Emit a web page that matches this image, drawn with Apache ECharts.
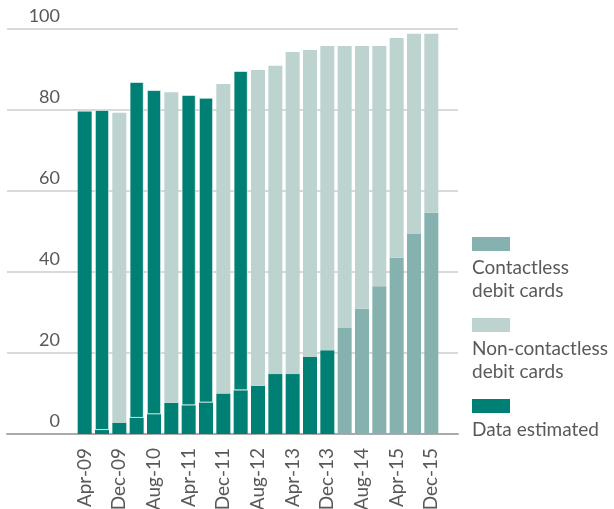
<!DOCTYPE html>
<html><head><meta charset="utf-8">
<script src="https://cdn.jsdelivr.net/npm/echarts@6/dist/echarts.min.js"></script>
<style>html,body{margin:0;padding:0;background:#fff}#c{width:614px;height:509px}</style>
</head><body><div id="c"></div>
<script>
const categories = ['Apr-09','Aug-09','Dec-09','Apr-10','Aug-10','Dec-10','Apr-11','Aug-11','Dec-11','Apr-12','Aug-12','Dec-12','Apr-13','Aug-13','Dec-13','Apr-14','Aug-14','Dec-14','Apr-15','Aug-15','Dec-15'];
const contactless = [0, 1.0, 2.8, 4.0, 4.9, 7.7, 7.1, 7.8, 10.0, 10.8, 11.9, 14.8, 14.8, 19.0, 20.7, 26.2, 30.9, 36.5, 43.5, 49.4, 54.6];
const nonContactless = [79.6, 79.0, 76.5, 82.9, 80.0, 76.7, 76.6, 75.2, 76.4, 78.8, 78.0, 76.1, 79.5, 75.8, 75.1, 69.6, 64.9, 59.3, 54.3, 49.4, 44.2];
const contactlessEstimated = [1,1,1,1,1,1,1,1,1,1,1,1,1,1,1,0,0,0,0,0,0];
const nonContactlessEstimated = [1,1,0,1,1,0,1,1,0,1,0,0,0,0,0,0,0,0,0,0,0];
const yTicks = [0, 20, 40, 60, 80, 100];

const DARK = '#008074', MED = '#85b1ae', LIGHT = '#bcd3d0', TXT = '#58595b';
const FONT = 'Lato';

const cData = contactless.map((v, i) => ({
  value: v,
  itemStyle: { color: contactlessEstimated[i] ? DARK : MED }
}));
const nData = nonContactless.map((v, i) => {
  const both = nonContactlessEstimated[i] && contactlessEstimated[i] && contactless[i] > 0;
  return {
    value: v,
    itemStyle: {
      color: nonContactlessEstimated[i] ? DARK : LIGHT,
      borderColor: both ? 'rgba(255,255,255,0.75)' : 'transparent',
      borderWidth: both ? 0.8 : 0
    }
  };
});

const chart = echarts.init(document.getElementById('c'), null, { renderer: 'canvas' });
function legendItem(y, color, text) {
  return [
    { type: 'rect', left: 472, top: y, shape: { width: 38, height: 14 }, style: { fill: color } },
    { type: 'text', left: 472, top: y + 19, style: { text: text, fill: TXT, font: '19px ' + FONT, lineHeight: 23 } }
  ];
}
chart.setOption({
  animation: false,
  textStyle: { fontFamily: FONT },
  grid: [
    { left: 7, right: 156, top: 29, bottom: 75, outerBoundsMode: 'none', containLabel: false },
    { left: 76, right: 174, top: 29, bottom: 75, outerBoundsMode: 'none', containLabel: false }
  ],
  xAxis: [
    { gridIndex: 0, type: 'value', min: 0, max: 1, axisLine: { show: true, lineStyle: { color: '#aaaaaa', width: 2 } },
      axisTick: { show: false }, axisLabel: { show: false }, splitLine: { show: false } },
    { gridIndex: 1, type: 'category', data: categories, axisLine: { show: false }, axisTick: { show: false },
      axisLabel: { interval: 1, rotate: 90, fontSize: 19, color: TXT, margin: 14, fontFamily: FONT } }
  ],
  yAxis: [
    { gridIndex: 0, type: 'value', min: yTicks[0], max: yTicks[yTicks.length - 1], interval: 20,
      axisLine: { show: false }, axisTick: { show: false },
      splitLine: { lineStyle: { color: '#cccccc', width: 1.5 } },
      axisLabel: { inside: true, margin: 53, align: 'right', verticalAlign: 'bottom', padding: [0, 0, 4, 0],
        fontSize: 18, color: TXT, fontFamily: FONT } },
    { gridIndex: 1, type: 'value', min: 0, max: 100, show: false, splitLine: { show: false } }
  ],
  series: [
    { name: 'Contactless debit cards', type: 'bar', xAxisIndex: 1, yAxisIndex: 1, stack: 'all', barWidth: 14, data: cData },
    { name: 'Non-contactless debit cards', type: 'bar', xAxisIndex: 1, yAxisIndex: 1, stack: 'all', barWidth: 14, data: nData }
  ],
  graphic: [].concat(
    legendItem(237, MED, 'Contactless\ndebit cards'),
    legendItem(318, LIGHT, 'Non-contactless\ndebit cards'),
    legendItem(399, DARK, 'Data estimated')
  )
});
</script></body></html>
